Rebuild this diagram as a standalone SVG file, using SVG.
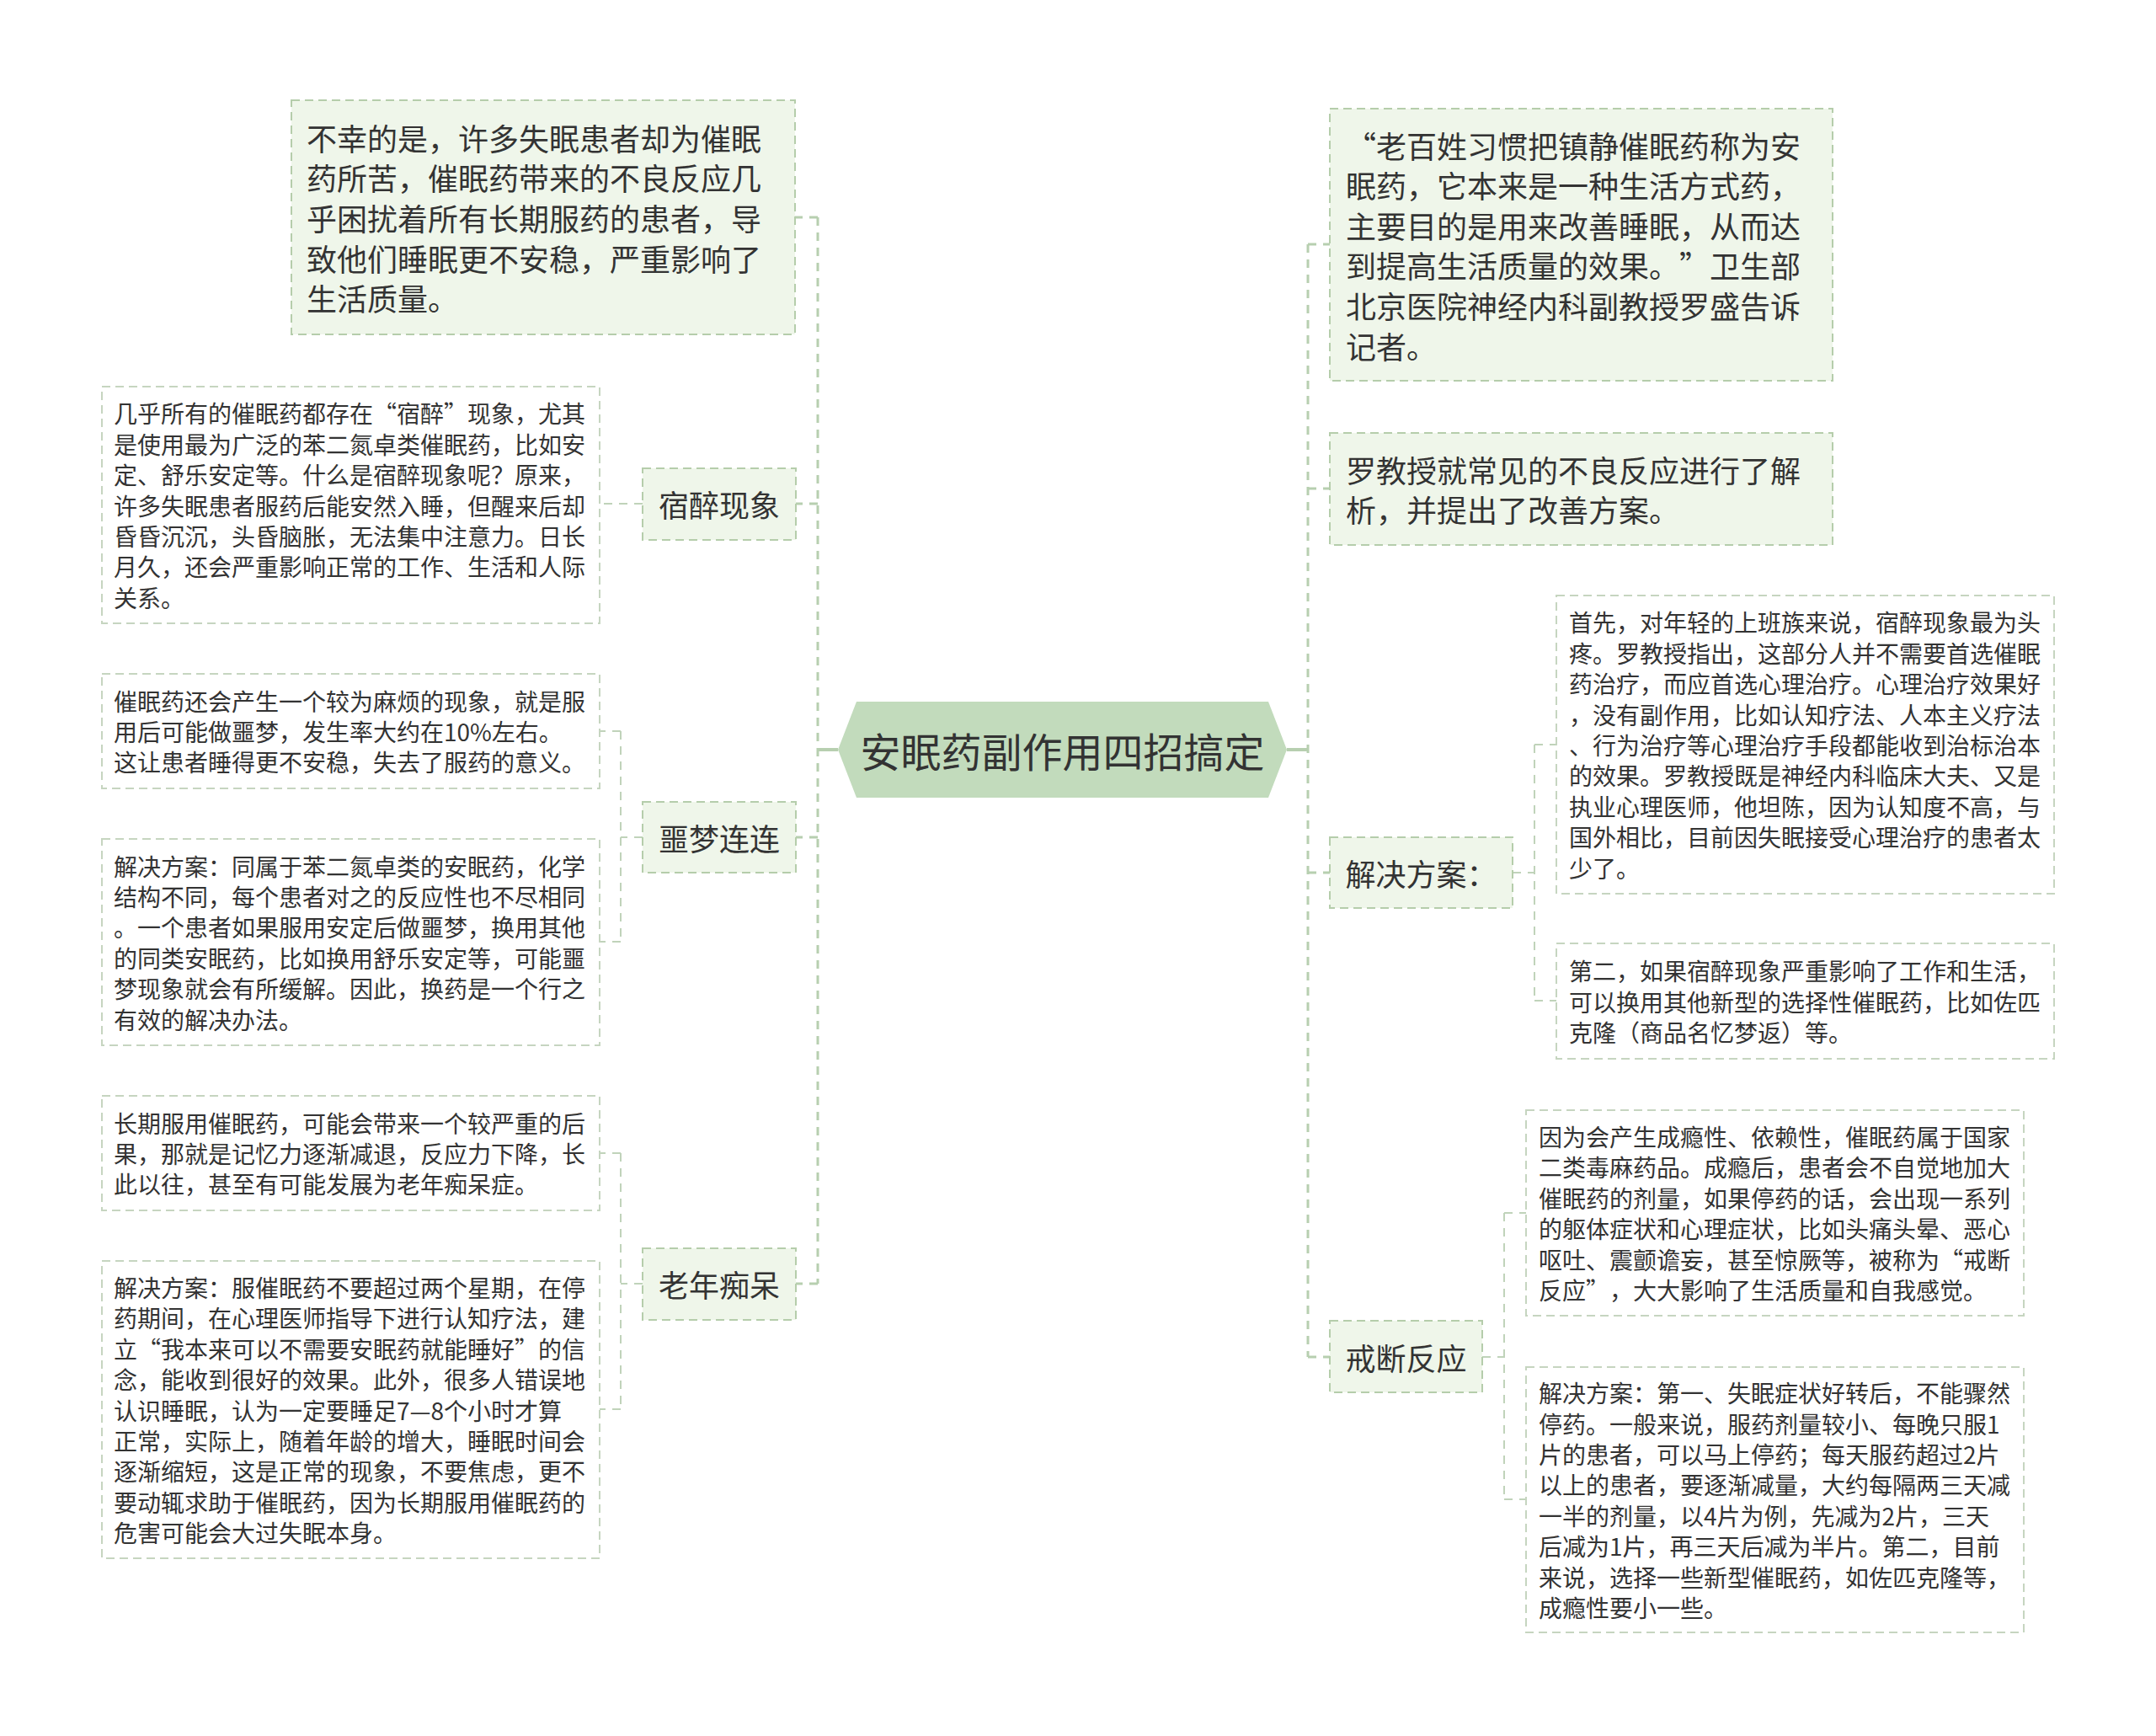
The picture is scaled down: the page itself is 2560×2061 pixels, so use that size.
<svg xmlns="http://www.w3.org/2000/svg" width="2560" height="2061" viewBox="0 0 2560 2061">
<style>
.n1{fill:#eff6ea;stroke:#b5cdab;stroke-width:2;stroke-dasharray:10 6}
.leaf{fill:#ffffff;stroke:#c6d5c0;stroke-width:2;stroke-dasharray:10 6}
.root{fill:#c2dbbc}
.t{font-family:"Noto Sans CJK SC","Noto Sans",sans-serif;fill:#333333;dominant-baseline:central;text-spacing-trim:space-all}
.big{font-size:36px}
.sm{font-size:28px}
.lbl{font-size:36px;text-anchor:middle}
.rt{font-size:48px;text-anchor:middle}
.conn{fill:none;stroke:#b7cfb0;stroke-width:3;stroke-dasharray:10 8}
.conn2{fill:none;stroke:#c0d3ba;stroke-width:2;stroke-dasharray:10 8}
.main{fill:none;stroke:#b7cfb0;stroke-width:4}
</style>
<rect width="2560" height="2061" fill="#ffffff"/>
<g id="connectors">
<path class="main" d="M995 890H971M1528 890H1553"/>
<path class="conn" d="M971 258V1524M971 258H944M971 598H945M971 994H945M971 1524H945"/>
<path class="conn" d="M1553 290V1611M1553 290H1579M1553 580H1579M1553 1036H1579M1553 1611H1579"/>
<path class="conn2" d="M763 598H712"/>
<path class="conn2" d="M763 994H737M737 868V1118M737 868H712M737 1118H712"/>
<path class="conn2" d="M763 1524H737M737 1369V1673M737 1369H712M737 1673H712"/>
<path class="conn2" d="M1796 1036H1822M1822 884V1188M1822 884H1848M1822 1188H1848"/>
<path class="conn2" d="M1760 1611H1786M1786 1440V1780M1786 1440H1812M1786 1780H1812"/>
</g>
<g id="root">
<polygon class="root" points="995,890 1017,833 1506,833 1528,890 1506,947 1017,947"/>
<text class="t rt" x="1261.5" y="890">安眠药副作用四招搞定</text>
</g>
<g id="node-l0">
<rect class="n1" x="346" y="119" width="598" height="278"/>
<text class="t big"><tspan x="364" y="162.8">不幸的是，许多失眠患者却为催眠</tspan><tspan x="364" y="210.4">药所苦，催眠药带来的不良反应几</tspan><tspan x="364" y="258">乎困扰着所有长期服药的患者，导</tspan><tspan x="364" y="305.6">致他们睡眠更不安稳，严重影响了</tspan><tspan x="364" y="353.2">生活质量。</tspan></text>
</g>
<g id="node-suzui">
<rect class="n1" x="763" y="556" width="182" height="85"/>
<text class="t lbl" x="854" y="598">宿醉现象</text>
</g>
<g id="leaf-suzui">
<rect class="leaf" x="121" y="459" width="591" height="281"/>
<text class="t sm"><tspan x="135" y="490.3">几乎所有的催眠药都存在“宿醉”现象，尤其</tspan><tspan x="135" y="526.7">是使用最为广泛的苯二氮卓类催眠药，比如安</tspan><tspan x="135" y="563.1">定、舒乐安定等。什么是宿醉现象呢？原来，</tspan><tspan x="135" y="599.5">许多失眠患者服药后能安然入睡，但醒来后却</tspan><tspan x="135" y="635.9">昏昏沉沉，头昏脑胀，无法集中注意力。日长</tspan><tspan x="135" y="672.3">月久，还会严重影响正常的工作、生活和人际</tspan><tspan x="135" y="708.7">关系。</tspan></text>
</g>
<g id="node-emeng">
<rect class="n1" x="763" y="952" width="182" height="84"/>
<text class="t lbl" x="854" y="994">噩梦连连</text>
</g>
<g id="leaf-emeng-1">
<rect class="leaf" x="121" y="800" width="591" height="136"/>
<text class="t sm"><tspan x="135" y="831.6">催眠药还会产生一个较为麻烦的现象，就是服</tspan><tspan x="135" y="868">用后可能做噩梦，发生率大约在10%左右。</tspan><tspan x="135" y="904.4">这让患者睡得更不安稳，失去了服药的意义。</tspan></text>
</g>
<g id="leaf-emeng-2">
<rect class="leaf" x="121" y="996" width="591" height="245"/>
<text class="t sm"><tspan x="135" y="1027.5">解决方案：同属于苯二氮卓类的安眠药，化学</tspan><tspan x="135" y="1063.9">结构不同，每个患者对之的反应性也不尽相同</tspan><tspan x="135" y="1100.3">。一个患者如果服用安定后做噩梦，换用其他</tspan><tspan x="135" y="1136.7">的同类安眠药，比如换用舒乐安定等，可能噩</tspan><tspan x="135" y="1173.1">梦现象就会有所缓解。因此，换药是一个行之</tspan><tspan x="135" y="1209.5">有效的解决办法。</tspan></text>
</g>
<g id="node-chidai">
<rect class="n1" x="763" y="1482" width="182" height="85"/>
<text class="t lbl" x="854" y="1524">老年痴呆</text>
</g>
<g id="leaf-chidai-1">
<rect class="leaf" x="121" y="1301" width="591" height="136"/>
<text class="t sm"><tspan x="135" y="1332.6">长期服用催眠药，可能会带来一个较严重的后</tspan><tspan x="135" y="1369">果，那就是记忆力逐渐减退，反应力下降，长</tspan><tspan x="135" y="1405.4">此以往，甚至有可能发展为老年痴呆症。</tspan></text>
</g>
<g id="leaf-chidai-2">
<rect class="leaf" x="121" y="1497" width="591" height="353"/>
<text class="t sm"><tspan x="135" y="1527.9">解决方案：服催眠药不要超过两个星期，在停</tspan><tspan x="135" y="1564.3">药期间，在心理医师指导下进行认知疗法，建</tspan><tspan x="135" y="1600.7">立“我本来可以不需要安眠药就能睡好”的信</tspan><tspan x="135" y="1637.1">念，能收到很好的效果。此外，很多人错误地</tspan><tspan x="135" y="1673.5">认识睡眠，认为一定要睡足7—8个小时才算</tspan><tspan x="135" y="1709.9">正常，实际上，随着年龄的增大，睡眠时间会</tspan><tspan x="135" y="1746.3">逐渐缩短，这是正常的现象，不要焦虑，更不</tspan><tspan x="135" y="1782.7">要动辄求助于催眠药，因为长期服用催眠药的</tspan><tspan x="135" y="1819.1">危害可能会大过失眠本身。</tspan></text>
</g>
<g id="node-r0">
<rect class="n1" x="1579" y="129" width="597" height="323"/>
<text class="t big"><tspan x="1598" y="171.5">“老百姓习惯把镇静催眠药称为安</tspan><tspan x="1598" y="219.1">眠药，它本来是一种生活方式药，</tspan><tspan x="1598" y="266.7">主要目的是用来改善睡眠，从而达</tspan><tspan x="1598" y="314.3">到提高生活质量的效果。</tspan><tspan x="1994" y="314.3">”卫生部</tspan><tspan x="1598" y="361.9">北京医院神经内科副教授罗盛告诉</tspan><tspan x="1598" y="409.5">记者。</tspan></text>
</g>
<g id="node-luo">
<rect class="n1" x="1579" y="514" width="597" height="133"/>
<text class="t big"><tspan x="1598" y="556.7">罗教授就常见的不良反应进行了解</tspan><tspan x="1598" y="604.3">析，并提出了改善方案。</tspan></text>
</g>
<g id="node-fangan">
<rect class="n1" x="1579" y="994" width="217" height="84"/>
<text class="t lbl" x="1687.5" y="1036">解决方案：</text>
</g>
<g id="leaf-fangan-1">
<rect class="leaf" x="1848" y="707" width="591" height="354"/>
<text class="t sm"><tspan x="1863" y="738.4">首先，对年轻的上班族来说，宿醉现象最为头</tspan><tspan x="1863" y="774.8">疼。罗教授指出，这部分人并不需要首选催眠</tspan><tspan x="1863" y="811.2">药治疗，而应首选心理治疗。心理治疗效果好</tspan><tspan x="1863" y="847.6">，没有副作用，比如认知疗法、人本主义疗法</tspan><tspan x="1863" y="884">、行为治疗等心理治疗手段都能收到治标治本</tspan><tspan x="1863" y="920.4">的效果。罗教授既是神经内科临床大夫、又是</tspan><tspan x="1863" y="956.8">执业心理医师，他坦陈，因为认知度不高，与</tspan><tspan x="1863" y="993.2">国外相比，目前因失眠接受心理治疗的患者太</tspan><tspan x="1863" y="1029.6">少了。</tspan></text>
</g>
<g id="leaf-fangan-2">
<rect class="leaf" x="1848" y="1120" width="591" height="137"/>
<text class="t sm"><tspan x="1863" y="1152.1">第二，如果宿醉现象严重影响了工作和生活，</tspan><tspan x="1863" y="1188.5">可以换用其他新型的选择性催眠药，比如佐匹</tspan><tspan x="1863" y="1224.9">克隆（商品名忆梦返）等。</tspan></text>
</g>
<g id="node-jieduan">
<rect class="n1" x="1579" y="1568" width="181" height="85"/>
<text class="t lbl" x="1669.5" y="1611">戒断反应</text>
</g>
<g id="leaf-jieduan-1">
<rect class="leaf" x="1812" y="1318" width="591" height="244"/>
<text class="t sm"><tspan x="1827" y="1349">因为会产生成瘾性、依赖性，催眠药属于国家</tspan><tspan x="1827" y="1385.4">二类毒麻药品。成瘾后，患者会不自觉地加大</tspan><tspan x="1827" y="1421.8">催眠药的剂量，如果停药的话，会出现一系列</tspan><tspan x="1827" y="1458.2">的躯体症状和心理症状，比如头痛头晕、恶心</tspan><tspan x="1827" y="1494.6">呕吐、震颤谵妄，甚至惊厥等，被称为“戒断</tspan><tspan x="1827" y="1531">反应”，大大影响了生活质量和自我感觉。</tspan></text>
</g>
<g id="leaf-jieduan-2">
<rect class="leaf" x="1812" y="1623" width="591" height="315"/>
<text class="t sm"><tspan x="1827" y="1653.1">解决方案：第一、失眠症状好转后，不能骤然</tspan><tspan x="1827" y="1689.5">停药。一般来说，服药剂量较小、每晚只服1</tspan><tspan x="1827" y="1725.9">片的患者，可以马上停药；每天服药超过2片</tspan><tspan x="1827" y="1762.3">以上的患者，要逐渐减量，大约每隔两三天减</tspan><tspan x="1827" y="1798.7">一半的剂量，以4片为例，先减为2片，三天</tspan><tspan x="1827" y="1835.1">后减为1片，再三天后减为半片。第二，目前</tspan><tspan x="1827" y="1871.5">来说，选择一些新型催眠药，如佐匹克隆等，</tspan><tspan x="1827" y="1907.9">成瘾性要小一些。</tspan></text>
</g>
</svg>
